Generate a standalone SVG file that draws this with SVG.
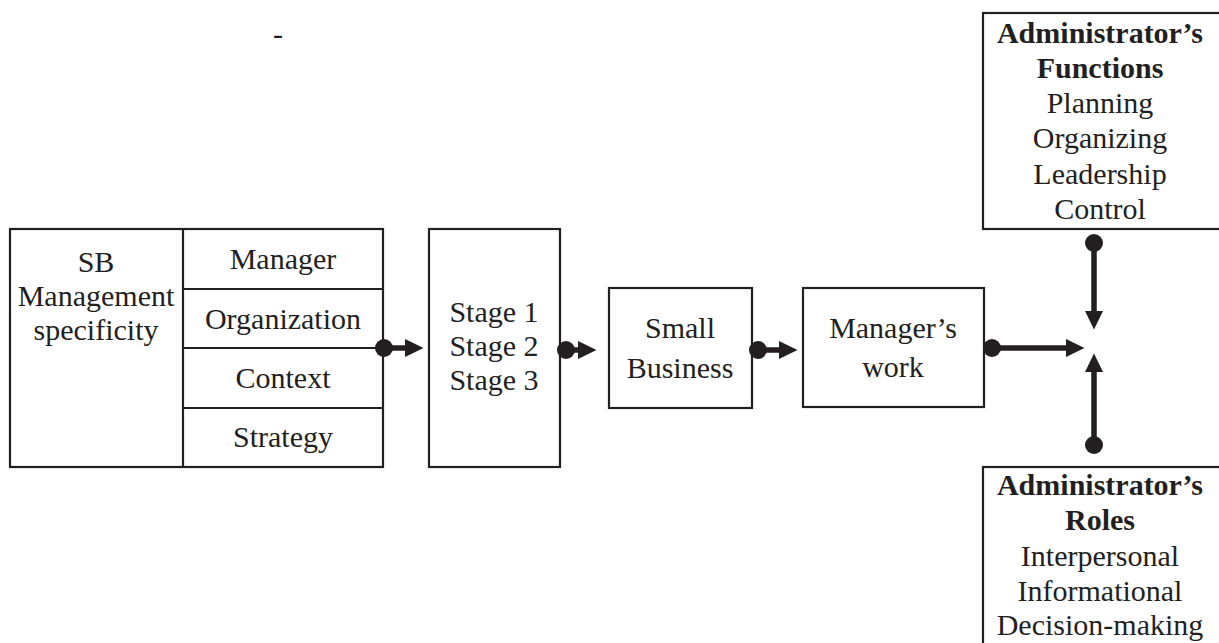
<svg xmlns="http://www.w3.org/2000/svg" width="1219" height="643" viewBox="0 0 1219 643">
<style>
  .box { fill: #fff; stroke: #231f20; stroke-width: 2.2; }
  .t { font-family: "Liberation Serif", "Times New Roman", serif; font-size: 30px; fill: #231f20; text-anchor: middle; }
  .b { font-weight: bold; }
  .conn { stroke: #231f20; stroke-width: 5.5; fill: none; }
</style>
<defs>
  <marker id="dot" markerUnits="userSpaceOnUse" markerWidth="20" markerHeight="20" refX="10" refY="10" orient="auto">
    <circle cx="10" cy="10" r="9" fill="#231f20"/>
  </marker>
  <marker id="head" markerUnits="userSpaceOnUse" markerWidth="20" markerHeight="18" refX="0" refY="9" orient="auto">
    <path d="M0,0 L18.5,9 L0,18 Z" fill="#231f20"/>
  </marker>
</defs>
<rect width="1219" height="643" fill="#fff"/>
<text class="t" x="278" y="44">-</text>
<g id="sb-management">
  <rect class="box" x="10" y="229" width="373" height="238"/>
  <line class="box" x1="183" y1="229" x2="183" y2="467"/>
  <line class="box" x1="183" y1="289" x2="383" y2="289"/>
  <line class="box" x1="183" y1="348" x2="383" y2="348"/>
  <line class="box" x1="183" y1="408" x2="383" y2="408"/>
  <text class="t" x="96" y="272">SB</text>
  <text class="t" x="96" y="306">Management</text>
  <text class="t" x="96" y="340">specificity</text>
  <text class="t" x="283" y="269">Manager</text>
  <text class="t" x="283" y="329">Organization</text>
  <text class="t" x="283" y="388">Context</text>
  <text class="t" x="283" y="447">Strategy</text>
</g>
<g id="stages">
  <rect class="box" x="429" y="229" width="131" height="238"/>
  <text class="t" x="494" y="322">Stage 1</text>
  <text class="t" x="494" y="356">Stage 2</text>
  <text class="t" x="494" y="390">Stage 3</text>
</g>
<g id="small-business">
  <rect class="box" x="609" y="288" width="143" height="120"/>
  <text class="t" x="680" y="338">Small</text>
  <text class="t" x="680" y="378">Business</text>
</g>
<g id="managers-work">
  <rect class="box" x="803" y="288" width="181" height="119"/>
  <text class="t" x="893" y="338">Manager’s</text>
  <text class="t" x="893" y="377">work</text>
</g>
<g id="admin-functions">
  <rect class="box" x="983" y="13" width="240" height="216"/>
  <text class="t b" x="1100" y="43">Administrator’s</text>
  <text class="t b" x="1100" y="78">Functions</text>
  <text class="t" x="1100" y="113">Planning</text>
  <text class="t" x="1100" y="148">Organizing</text>
  <text class="t" x="1100" y="184">Leadership</text>
  <text class="t" x="1100" y="219">Control</text>
</g>
<g id="admin-roles">
  <rect class="box" x="983" y="467" width="240" height="190"/>
  <text class="t b" x="1100" y="495">Administrator’s</text>
  <text class="t b" x="1100" y="530">Roles</text>
  <text class="t" x="1100" y="566">Interpersonal</text>
  <text class="t" x="1100" y="601">Informational</text>
  <text class="t" x="1100" y="635">Decision-making</text>
</g>
<g id="connectors">
  <path class="conn" d="M384,348 L405,348" marker-start="url(#dot)" marker-end="url(#head)"/>
  <path class="conn" d="M566,350 L578,350" marker-start="url(#dot)" marker-end="url(#head)"/>
  <path class="conn" d="M758,350 L779,350" marker-start="url(#dot)" marker-end="url(#head)"/>
  <path class="conn" d="M992,348 L1066,348" marker-start="url(#dot)" marker-end="url(#head)"/>
  <path class="conn" d="M1094,243 L1094,311" marker-start="url(#dot)" marker-end="url(#head)"/>
  <path class="conn" d="M1094,445 L1094,372" marker-start="url(#dot)" marker-end="url(#head)"/>
</g>
</svg>
